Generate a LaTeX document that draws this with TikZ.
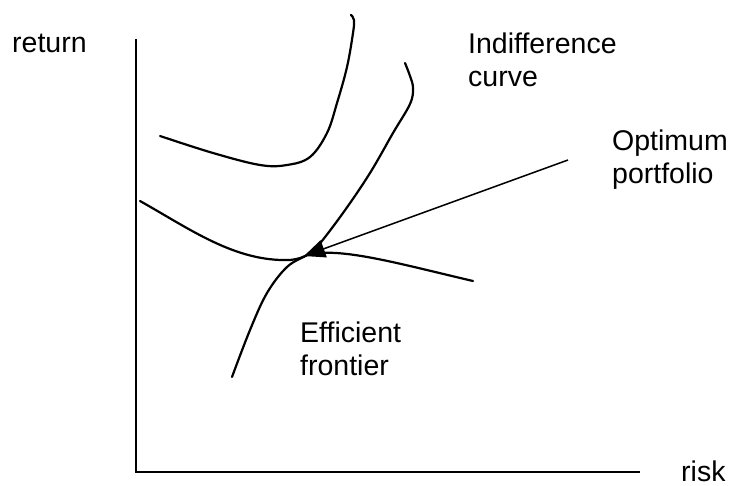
\documentclass[tikz,border=0pt]{standalone}
\usepackage{fontspec}
\setmainfont{Liberation Sans}
\usetikzlibrary{arrows.meta}
\begin{document}
\begin{tikzpicture}[x=1pt,y=-1pt,
  lbl/.style={inner sep=0pt,font=\fontsize{28.5}{32.5}\selectfont,align=left},
  axisline/.style={line width=2.2pt},
  curveline/.style={line width=2.2pt,line cap=round,line join=round},
  pointer/.style={line width=1.5pt,-{Triangle[length=21pt,width=18pt]}}]
\useasboundingbox (0,0) rectangle (733,486);
% axes
\coordinate (ytop) at (136,39);
\coordinate (orig) at (136,472);
\coordinate (xend) at (640,472);
\draw[axisline] (ytop) -- (orig) -- (xend);
% labels
\node[lbl,anchor=base west] (ret) at (12,53) {return};
\node[lbl,anchor=base west] (risk) at (681,481) {risk};
\node[lbl,anchor=north west] (indiff) at (468,33) {Indifference\\curve};
\node[lbl,anchor=north west] (optim) at (612,130) {Optimum\\portfolio};
\node[lbl,anchor=north west] (effic) at (300,322) {Efficient\\frontier};
% upper indifference curve
\draw[curveline] plot[smooth,tension=0.6] coordinates {(160,136) (213,153) (260,165) (287,165) (310,157) (327,133) (337,103) (347,67) (353,33) (354,20) (351,15)};
% lower indifference curve
\draw[curveline] (140,201) .. controls (190,229) and (235,262) .. (290,260)
  .. controls (300,259) and (305,256) .. (310,254)
  .. controls (345,248) and (400,264) .. (473,281);
% efficient frontier
\draw[curveline] plot[smooth,tension=0.6] coordinates {(232,377) (250,330) (267,293) (287,267) (307,255) (317,247) (343,213) (370,173) (393,133) (410,104) (413,88) (410,76) (405,63)};
% optimum pointer
\coordinate (opt) at (304,256);
\coordinate (ptail) at (568,160);
\draw[pointer] (ptail) -- (opt);
\end{tikzpicture}
\end{document}
